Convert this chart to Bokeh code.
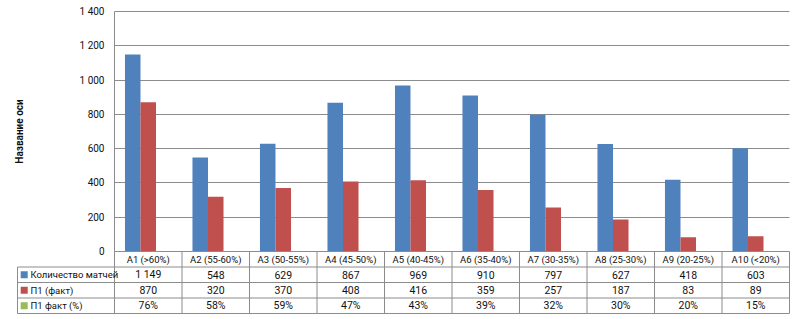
from bokeh.plotting import figure
from bokeh.models import Range1d, FixedTicker, ColumnDataSource, LinearAxis, Grid
from bokeh.transform import dodge
from bokeh.embed import file_html
from bokeh.resources import INLINE
from bokeh.core.properties import value

categories = ["A1 (>60%)", "A2 (55-60%)", "A3 (50-55%)", "A4 (45-50%)", "A5 (40-45%)",
              "A6 (35-40%)", "A7 (30-35%)", "A8 (25-30%)", "A9 (20-25%)", "A10 (<20%)"]
matches = [1149, 548, 629, 867, 969, 910, 797, 627, 418, 603]
p1_fact = [870, 320, 370, 408, 416, 359, 257, 187, 83, 89]
p1_pct = [76, 58, 59, 47, 43, 39, 32, 30, 20, 15]
series_names = ["Количество матчей", "П1 (факт)", "П1 факт  (%)"]
series_colors = ["#4F81BD", "#C0504D", "#9BBB59"]
y_ticks = [0, 200, 400, 600, 800, 1000, 1200, 1400]
axis_title = "Название оси"

FONT = "Roboto"
GRID = "#8c8c8c"
TXT = "#111111"
N = len(categories)
CAT_PX = 67.5                 # pixel width of one category
YMAX = y_ticks[-1]
U = YMAX / 240.0              # data units per vertical pixel
ROW = 15.5 * U                # table row height
X0 = -97 / CAT_PX             # left edge of the table's name column
W, H = 800, 319
OX, OY = 114, 251             # pixel position of the data origin


def fmt(v):
    return f"{v:,}".replace(",", " ")


p = figure(x_range=Range1d(-OX / CAT_PX, (W - OX) / CAT_PX),
           y_range=Range1d(-(H - OY) * U, OY * U),
           width=W, height=H, title=None, toolbar_location=None,
           output_backend="svg", x_axis_location=None, y_axis_location=None,
           min_border=0)
p.outline_line_color = None
p.background_fill_color = "white"
p.border_fill_color = "white"
for g in p.grid:
    g.visible = False

# ---------- axis & grid ----------
grid = Grid(dimension=1, ticker=FixedTicker(ticks=y_ticks[1:]), bounds=(0, YMAX),
            cross_bounds=(0, N), grid_line_color=GRID)
p.add_layout(grid)
ya = LinearAxis(fixed_location=0, bounds=(0, YMAX), ticker=FixedTicker(ticks=y_ticks))
ya.major_label_overrides = {t: fmt(t) for t in y_ticks}
ya.major_tick_out = 0
ya.major_tick_in = 0
ya.minor_tick_out = 0
ya.minor_tick_in = 0
ya.axis_line_color = GRID
ya.major_label_standoff = 10
ya.major_label_text_font = FONT
ya.major_label_text_font_size = "10px"
ya.major_label_text_color = TXT
ya.axis_label = axis_title
ya.axis_label_text_font = FONT
ya.axis_label_text_font_size = "10px"
ya.axis_label_text_font_style = "bold"
ya.axis_label_text_color = TXT
ya.axis_label_standoff = 52
p.add_layout(ya, "left")

# ---------- bars ----------
xc = [i + 0.5 for i in range(N)]
src = ColumnDataSource(dict(x=xc, m=matches, f=p1_fact, pc=[v / 100 for v in p1_pct]))
bw = 0.23
for key, off, col in [("m", -bw, series_colors[0]), ("f", 0, series_colors[1]),
                      ("pc", bw, series_colors[2])]:
    p.vbar(x=dodge("x", off), top=key, width=bw, source=src,
           fill_color=col, line_color=None)

# ---------- data table ----------
nrows = len(series_names) + 1
hy = [-k * ROW for k in range(nrows + 1)]
hx0 = [0] + [X0] * nrows
p.segment(x0=hx0, y0=hy, x1=[N] * len(hy), y1=hy, line_color=GRID, line_width=1)
vx = [X0] + list(range(N + 1))
vy0 = [-ROW] + [0] * (N + 1)
p.segment(x0=vx, y0=vy0, x1=vx, y1=[-nrows * ROW] * len(vx),
          line_color=GRID, line_width=1)

rows = [categories, [fmt(v) for v in matches], [fmt(v) for v in p1_fact],
        [f"{v}%" for v in p1_pct]]
for r, texts in enumerate(rows):
    p.text(x=xc, y=[-(r + 0.5) * ROW] * N, text=texts, text_align="center",
           text_baseline="middle", text_font=value(FONT),
           text_font_size="9.5px" if r == 0 else "10.5px", text_color=TXT)

ry = [-(i + 1.5) * ROW for i in range(len(series_names))]
p.scatter(x=[X0 + 6.7 / CAT_PX] * len(ry), y=ry, marker="square", size=7,
          fill_color=series_colors, line_color=None)
p.text(x=[X0 + 13 / CAT_PX] * len(ry), y=ry, text=series_names, text_align="left",
       text_baseline="middle", text_font=value(FONT), text_font_size="9.5px",
       text_color=TXT)

open("out.html", "w").write(file_html(p, INLINE))
